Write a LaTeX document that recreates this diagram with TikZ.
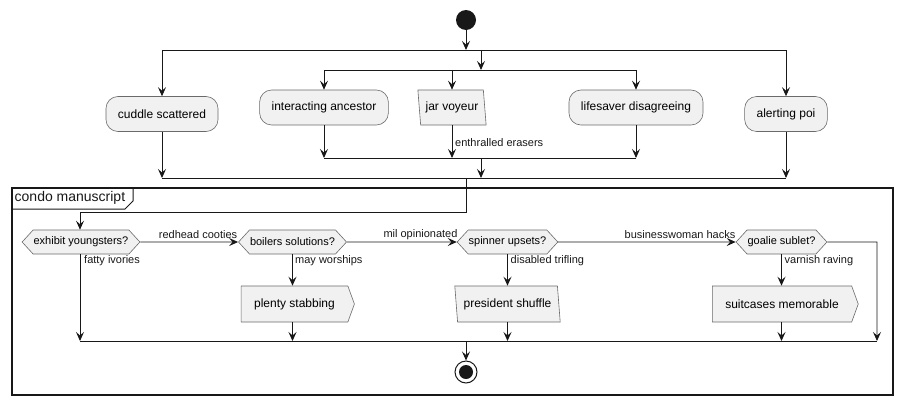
\documentclass[tikz,border=0pt]{standalone}
\usepackage{fontspec}
\setmainfont{Liberation Sans}
\usetikzlibrary{arrows.meta,shapes.geometric,shapes.symbols}
\definecolor{boxfill}{HTML}{F1F1F1}
\definecolor{ink}{HTML}{181818}
\definecolor{rim}{HTML}{6A6A6A}
\tikzset{
  base/.style={draw=rim, fill=boxfill, line width=0.6pt, inner sep=0pt,
    font=\fontsize{12}{14}\selectfont},
  act/.style={base, rounded corners=12pt, minimum height=35pt, inner xsep=12pt},
  para/.style={base, trapezium, trapezium left angle=104, trapezium right angle=76,
    trapezium stretches body, minimum height=35pt, inner xsep=5pt},
  flag/.style={base, signal, signal to=east, signal pointer angle=140,
    minimum height=36pt, inner xsep=13pt},
  dec/.style={base, signal, signal to=west and east, signal pointer angle=95,
    minimum height=24pt, inner xsep=0.5pt, font=\fontsize{11}{13}\selectfont},
  lab/.style={inner sep=0pt, font=\fontsize{11}{13}\selectfont, text=ink},
  arr/.style={draw=ink, line width=0.9pt, -{Stealth[length=9pt,width=8pt,inset=3.5pt]}},
  barline/.style={draw=ink, line width=0.9pt},
  startdot/.style={circle, fill=ink, minimum size=20pt, inner sep=0pt},
}
\begin{document}
\begin{tikzpicture}[x=1pt,y=-1pt]
\useasboundingbox (0,0) rectangle (902,405);

% start
\node[startdot] (start) at (466,20) {};
\coordinate (f1) at (466,50);
\coordinate (f1L) at (162,50);
\coordinate (f1R) at (786,50);
\coordinate (f1a) at (481,50);
\coordinate (f2L) at (324,70);
\coordinate (f2R) at (636,70);
\coordinate (f2m) at (452,70);
\coordinate (f2a) at (481,70);
\coordinate (m2L) at (324,158);
\coordinate (m2R) at (636,158);
\coordinate (m2m) at (452,158);
\coordinate (m2a) at (481,158);
\coordinate (m1L) at (162,178);
\coordinate (m1R) at (786,178);
\coordinate (m1a) at (481,178);
\coordinate (m1b) at (466,178);
\coordinate (g) at (466,212);
\coordinate (gL) at (80,212);

% top activities
\node[act] (cuddle) at (162,114) {cuddle scattered};
\node[act] (inter) at (324,107.5) {interacting ancestor};
\node[para] (jar) at (452,107.5) {jar voyeur};
\node[act] (life) at (636,107.5) {lifesaver disagreeing};
\node[act] (alert) at (786,114) {alerting poi};

\draw[arr] (start) -- (f1);
\draw[barline] (f1L) -- (f1R);
\draw[arr] (f1L) -- (cuddle);
\draw[arr] (f1R) -- (alert);
\draw[arr] (f1a) -- (f2a);
\draw[barline] (f2L) -- (f2R);
\draw[arr] (f2L) -- (inter);
\draw[arr] (f2m) -- (f2m |- jar.north);
\draw[arr] (f2R) -- (life);
\draw[arr] (inter) -- (m2L);
\draw[arr] (jar.south -| m2m) -- (m2m);
\node[lab, anchor=west] (lenth) at (455,143) {enthralled erasers};
\draw[arr] (life) -- (m2R);
\draw[barline] (m2L) -- (m2R);
\draw[arr] (m2a) -- (m1a);
\draw[arr] (cuddle) -- (m1L);
\draw[arr] (alert) -- (m1R);
\draw[barline] (m1L) -- (m1R);

% group frame
\draw[draw=ink, line width=1.2pt] (12,188) rectangle (893,395);
\draw[draw=ink, line width=1pt] (12,209) -- (125,209) -- (133,201) -- (133,188);
\node[anchor=west, inner sep=0pt, font=\fontsize{14}{16}\selectfont, text=ink] (gtitle) at (14.5,198) {condo manuscript};

% decisions
\node[dec] (d1) at (81,242) {exhibit youngsters?};
\node[dec] (d2) at (292.5,242) {boilers solutions?};
\node[dec] (d3) at (507.5,242) {spinner upsets?};
\node[dec] (d4) at (781.5,242) {goalie sublet?};

\node[flag] (plenty) at (294.5,304) {plenty stabbing};
\node[para, inner xsep=6pt, minimum height=36pt] (pres) at (507.5,304) {president shuffle};
\node[flag] (suit) at (782,304) {suitcases memorable};

\coordinate (m3a) at (80,341);
\coordinate (m3e) at (877,341);
\coordinate (m3m) at (466,341);
\coordinate (d4r) at (877,242);
\node[circle, draw=ink, line width=1pt, fill=white, minimum size=22pt, inner sep=0pt] (endc) at (466,372) {};
\node[circle, fill=ink, minimum size=14pt, inner sep=0pt] (enddot) at (466,372) {};

\draw[arr] (m1b) -- (g) -- (gL) -- (gL |- d1.north);

\draw[arr] (d1) -- (d2);
\node[lab] (lred) at (198,235) {redhead cooties};
\draw[arr] (d2) -- (d3);
\node[lab] (lmil) at (420.5,235) {mil opinionated};
\draw[arr] (d3) -- (d4);
\node[lab] (lbus) at (680,235) {businesswoman hacks};
\draw[arr] (d4) -- (d4r) -- (m3e);

\draw[arr] (gL |- d1.south) -- (m3a);
\node[lab, anchor=west] (lfat) at (84,261) {fatty ivories};
\draw[arr] (d2.south) -- (d2.south |- plenty.north);
\node[lab, anchor=west] (lmay) at (295,261) {may worships};
\draw[arr] (d3.south) -- (d3.south |- pres.north);
\node[lab, anchor=west] (ldis) at (510.5,261) {disabled trifling};
\draw[arr] (d4.south) -- (d4.south |- suit.north);
\node[lab, anchor=west] (lvar) at (784.5,261) {varnish raving};

\draw[arr] (plenty.south -| d2.south) -- (d2.south |- m3a);
\draw[arr] (pres.south -| d3.south) -- (d3.south |- m3a);
\draw[arr] (suit.south -| d4.south) -- (d4.south |- m3a);
\draw[barline] (m3a) -- (m3e);
\draw[arr] (m3m) -- (endc);
\end{tikzpicture}
\end{document}
